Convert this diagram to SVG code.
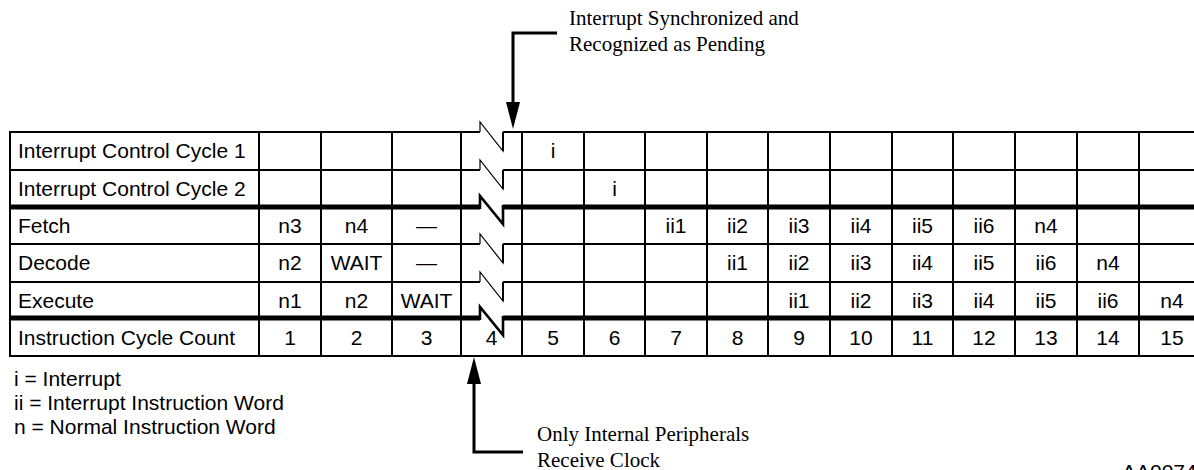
<svg xmlns="http://www.w3.org/2000/svg" width="1194" height="470" viewBox="0 0 1194 470">
<defs>
<style>
.g{stroke:#000;stroke-width:2;fill:none}
.gk{stroke:#000;stroke-width:5;fill:none}
.b{stroke:#000;stroke-width:1.2;fill:none}
.bk{stroke:#000;stroke-width:2.6;fill:none}
.t{font-family:"Liberation Sans",Arial,sans-serif;font-size:21px;fill:#000}
.c{font-family:"Liberation Sans",Arial,sans-serif;font-size:21px;fill:#000;text-anchor:middle}
.s{font-family:"Liberation Serif","Times New Roman",serif;font-size:21px;fill:#000}
.a{stroke:#000;stroke-width:3;fill:none}
</style>
</defs>
<rect width="1194" height="470" fill="#fff"/>
<g id="table-grid">
<!-- vertical lines -->
<path class="g" d="M10,132V356M259,132V356M321,132V356M392,132V356M461,132V356M522,132V356M584,132V356M645,132V356M707,132V356M768,132V356M830,132V356M892,132V356M953,132V356M1015,132V356M1077,132V356M1139,132V356"/>
<!-- thin horizontal lines with break -->
<path class="g" d="M9,132H480M503,132H1194M9,170H480M503,170H1194M9,244H480M503,244H1194M9,282H480M503,282H1194M9,356H1194"/>
<path class="b" d="M480,132V122L503,151V132M480,170V160L503,189V170M480,244V234L503,263V244M480,282V272L503,301V282"/>
<path class="g" d="M503,151V132M503,189V170M503,263V244M503,301V282"/>
<!-- thick lines with break -->
<path class="gk" d="M9,207H480M503,207H1194M9,318H480M503,318H1194"/>
<path class="bk" d="M480,209V196L503,224V205M480,320V307L503,335V316"/>
</g>
<g id="row-labels">
<text class="t" x="18" y="158">Interrupt Control Cycle 1</text>
<text class="t" x="18" y="196">Interrupt Control Cycle 2</text>
<text class="t" x="18" y="233">Fetch</text>
<text class="t" x="18" y="270">Decode</text>
<text class="t" x="18" y="308">Execute</text>
<text class="t" x="18" y="345">Instruction Cycle Count</text>
</g>
<g id="row-icc1"><text class="c" x="553" y="158">i</text></g>
<g id="row-icc2"><text class="c" x="614.5" y="196">i</text></g>
<g id="row-fetch">
<text class="c" x="290" y="233">n3</text>
<text class="c" x="356.5" y="233">n4</text>
<text class="c" x="426.5" y="233">—</text>
<text class="c" x="676" y="233">ii1</text>
<text class="c" x="737.5" y="233">ii2</text>
<text class="c" x="799" y="233">ii3</text>
<text class="c" x="861" y="233">ii4</text>
<text class="c" x="922.5" y="233">ii5</text>
<text class="c" x="984" y="233">ii6</text>
<text class="c" x="1046" y="233">n4</text>
</g>
<g id="row-decode">
<text class="c" x="290" y="270">n2</text>
<text class="c" x="356.5" y="270">WAIT</text>
<text class="c" x="426.5" y="270">—</text>
<text class="c" x="737.5" y="270">ii1</text>
<text class="c" x="799" y="270">ii2</text>
<text class="c" x="861" y="270">ii3</text>
<text class="c" x="922.5" y="270">ii4</text>
<text class="c" x="984" y="270">ii5</text>
<text class="c" x="1046" y="270">ii6</text>
<text class="c" x="1108" y="270">n4</text>
</g>
<g id="row-execute">
<text class="c" x="290" y="308">n1</text>
<text class="c" x="356.5" y="308">n2</text>
<text class="c" x="426.5" y="308">WAIT</text>
<text class="c" x="799" y="308">ii1</text>
<text class="c" x="861" y="308">ii2</text>
<text class="c" x="922.5" y="308">ii3</text>
<text class="c" x="984" y="308">ii4</text>
<text class="c" x="1046" y="308">ii5</text>
<text class="c" x="1108" y="308">ii6</text>
<text class="c" x="1172" y="308">n4</text>
</g>
<g id="row-count">
<text class="c" x="290" y="345">1</text>
<text class="c" x="356.5" y="345">2</text>
<text class="c" x="426.5" y="345">3</text>
<text class="c" x="491.5" y="345">4</text>
<text class="c" x="553" y="345">5</text>
<text class="c" x="614.5" y="345">6</text>
<text class="c" x="676" y="345">7</text>
<text class="c" x="737.5" y="345">8</text>
<text class="c" x="799" y="345">9</text>
<text class="c" x="861" y="345">10</text>
<text class="c" x="922.5" y="345">11</text>
<text class="c" x="984" y="345">12</text>
<text class="c" x="1046" y="345">13</text>
<text class="c" x="1108" y="345">14</text>
<text class="c" x="1172" y="345">15</text>
</g>
<g id="legend">
<text class="t" x="14" y="386">i = Interrupt</text>
<text class="t" x="14" y="410">ii = Interrupt Instruction Word</text>
<text class="t" x="14" y="434">n = Normal Instruction Word</text>
</g>
<g id="note-top">
<text class="s" x="569" y="25">Interrupt Synchronized and</text>
<text class="s" x="569" y="51">Recognized as Pending</text>
</g>
<g id="note-bottom">
<text class="s" x="537" y="441">Only Internal Peripherals</text>
<text class="s" x="537" y="467">Receive Clock</text>
</g>
<g id="figure-id"><text class="t" x="1122" y="479">AA0074</text></g>
<g id="connectors">
<path class="a" d="M557,33H513V104"/>
<polygon points="506,102 520,102 513,129" fill="#000"/>
<path class="a" d="M523,452H474V382"/>
<polygon points="467,384 481,384 474,357" fill="#000"/>
</g>
</svg>
